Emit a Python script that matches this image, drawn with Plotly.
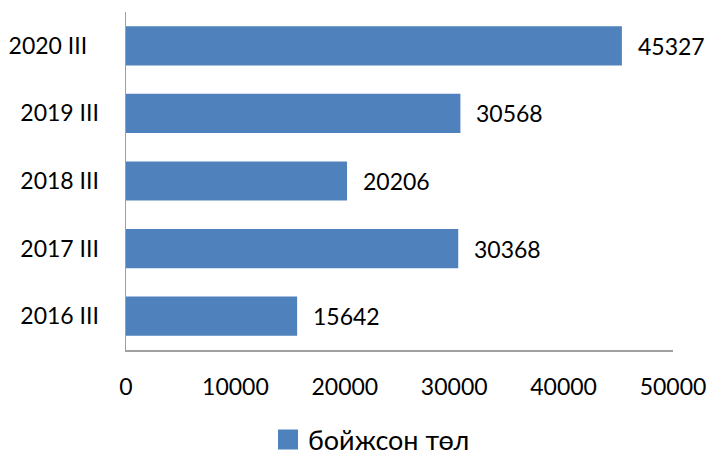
import plotly.graph_objects as go

categories = ["2016 III", "2017 III", "2018 III", "2019 III", "2020 III"]
tick_labels = ["2016 III", "2017 III", "2018 III", "2019 III", "2020 III\u00a0\u00a0"]
values = [15642, 30368, 20206, 30568, 45327]
series_name = "бойжсон төл"
x_ticks = [0, 10000, 20000, 30000, 40000, 50000]

FONT = "Lato"
FS = 23
COLOR = "#4F81BD"

fig = go.Figure()
fig.add_trace(go.Bar(
    y=categories, x=values, orientation="h", name=series_name,
    marker=dict(color=COLOR, line=dict(width=0)),
    showlegend=False,
))
# legend entry for the bar series (larger square swatch)
fig.add_trace(go.Scatter(
    x=[None], y=[None], mode="markers", name=series_name,
    marker=dict(symbol="square", size=16, color=COLOR, line=dict(color=COLOR, width=4)),
    showlegend=True, hoverinfo="skip",
))

for c, v in zip(categories, values):
    fig.add_annotation(x=v, y=c, text=str(v), showarrow=False,
                       xanchor="left", yanchor="middle", xshift=14,
                       font=dict(family=FONT, size=FS, color="#000000"))

fig.update_layout(
    width=711, height=456,
    margin=dict(l=126, r=38, t=12, b=106, autoexpand=False),
    paper_bgcolor="white", plot_bgcolor="white",
    font=dict(family=FONT, size=FS, color="#000000"),
    bargap=0.42,
    showlegend=True,
    legend=dict(orientation="h", xref="container", yref="container",
                x=268 / 711, xanchor="left", y=(456 - 440) / 456, yanchor="middle",
                font=dict(family=FONT, size=27), itemwidth=30, itemsizing="trace"),
    xaxis=dict(range=[0, 50000], tickvals=x_ticks, ticktext=[str(t) for t in x_ticks],
               showgrid=False, zeroline=False, showline=True, linecolor="#A0A0A0",
               linewidth=1.5, ticks="", ticklabelstandoff=16, fixedrange=True,
               automargin=False),
    yaxis=dict(categoryorder="array", categoryarray=categories,
               tickvals=categories, ticktext=tick_labels,
               showgrid=False, zeroline=False, showline=True, linecolor="#A0A0A0",
               linewidth=1.5, ticks="", ticklabelstandoff=21, fixedrange=True,
               automargin=False),
)

fig.write_html("out.html", config={"displayModeBar": False, "staticPlot": True},
               post_script="document.body.style.margin='0';document.body.style.overflow='hidden';")
